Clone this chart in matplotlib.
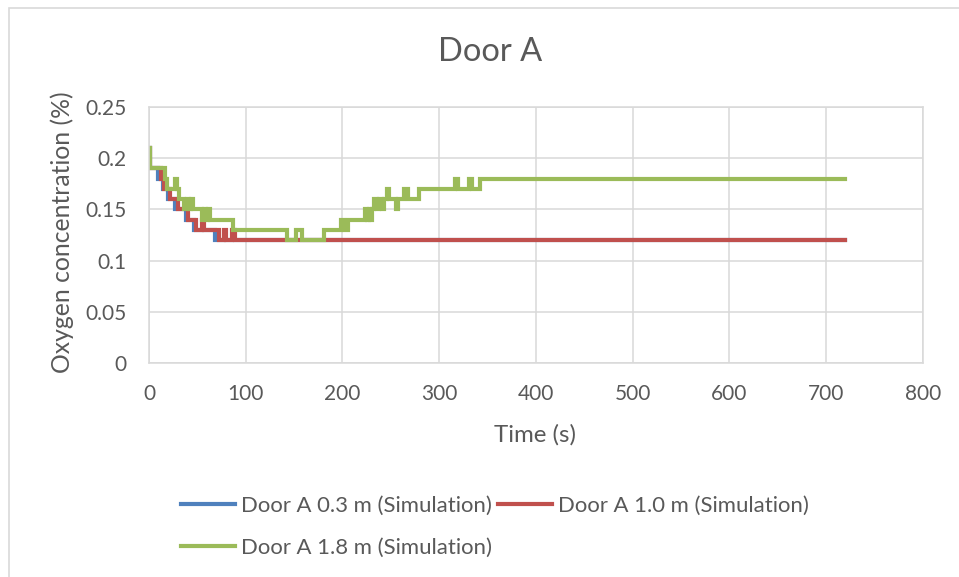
import matplotlib
matplotlib.use("Agg")
import matplotlib.pyplot as plt
from matplotlib.patches import Rectangle

plt.rcParams['font.family'] = ['Lato', 'DejaVu Sans']

# ---- data ----
title = "Door A"
x_label = "Time (s)"
y_label = "Oxygen concentration (%)"
series_names = ["Door A 0.3 m (Simulation)", "Door A 1.0 m (Simulation)", "Door A 1.8 m (Simulation)"]

t_03 = [0, 1, 9, 14, 20, 27, 38, 47, 68, 720]
v_03 = [0.21, 0.19, 0.18, 0.17, 0.16, 0.15, 0.14, 0.13, 0.12, 0.12]

t_10 = [0, 1, 12, 15, 22, 30, 40, 49, 55, 57, 72, 78, 80, 86, 89, 720]
v_10 = [0.21, 0.19, 0.18, 0.17, 0.16, 0.15, 0.14, 0.13, 0.14, 0.13, 0.12, 0.13, 0.12, 0.13, 0.12, 0.12]

t_18 = [0, 1, 17, 19, 27, 29, 31, 36, 39, 41, 43, 45, 55, 57, 59, 61, 63, 87,
        143, 152, 158, 181, 199, 202, 206, 223, 225, 227, 229, 231, 233, 236, 238,
        241, 243, 246, 248, 255, 257, 264, 268, 279, 316, 320, 331, 334, 342, 720]
v_18 = [0.21, 0.19, 0.18, 0.17, 0.18, 0.17, 0.16, 0.15, 0.16, 0.15, 0.16, 0.15, 0.14, 0.15, 0.14, 0.15, 0.14, 0.13,
        0.12, 0.13, 0.12, 0.13, 0.14, 0.13, 0.14, 0.15, 0.14, 0.15, 0.14, 0.15, 0.16, 0.15, 0.16,
        0.15, 0.16, 0.17, 0.16, 0.15, 0.16, 0.17, 0.16, 0.17, 0.18, 0.17, 0.18, 0.17, 0.18, 0.18]

x_ticks = [0, 100, 200, 300, 400, 500, 600, 700, 800]
y_ticks = [0, 0.05, 0.1, 0.15, 0.2, 0.25]
y_tick_labels = ["0", "0.05", "0.1", "0.15", "0.2", "0.25"]

colors = ["#4F81BD", "#C0504D", "#9BBB59"]

# ---- figure ----
W, H = 959, 577
fig = plt.figure(figsize=(W / 100, H / 100), dpi=100)
ax = fig.add_axes([149 / W, 1 - 363.3 / H, (922.7 - 149) / W, (363.3 - 106.7) / H])

lines = []
for t, v, c, name in zip([t_03, t_10, t_18], [v_03, v_10, v_18], colors, series_names):
    ln, = ax.step(t, v, where='post', color=c, lw=3.0, label=name, solid_joinstyle='miter')
    lines.append(ln)

ax.set_xlim(0, 800)
ax.set_ylim(0, 0.25)
ax.set_xticks(x_ticks)
ax.set_yticks(y_ticks)
ax.set_yticklabels(y_tick_labels)
ax.grid(True, color="#D9D9D9", lw=1.1)
ax.set_axisbelow(True)
for s in ax.spines.values():
    s.set_color("#D9D9D9")
    s.set_linewidth(1.1)
ax.tick_params(length=0, labelsize=15, colors="#595959")
ax.tick_params(axis='x', pad=15)
ax.tick_params(axis='y', pad=16)

fig.text(490 / W, 1 - 52 / H, title, ha='center', va='center', fontsize=23.5, color="#595959")
fig.text(535 / W, 1 - 435 / H, x_label, ha='center', va='center', fontsize=17.3, color="#595959")
fig.text(62 / W, 1 - 232 / H, y_label, ha='center', va='center', rotation=90, fontsize=17.8, color="#595959")

handles = [lines[0], lines[2], lines[1]]
labels = [series_names[0], series_names[2], series_names[1]]
leg = fig.legend(handles, labels, loc='upper left', bbox_to_anchor=(181 / W, 1 - 496 / H),
                 ncol=2, frameon=False, fontsize=15.9, handlelength=2.45, handletextpad=0.25,
                 columnspacing=0.3, labelspacing=0.97, borderpad=0, borderaxespad=0)
for txt in leg.get_texts():
    txt.set_color("#595959")

fig.patches.append(Rectangle((9 / W, -0.1), 1.2, 1.1 - 8 / H + 0.0, transform=fig.transFigure,
                             fill=False, edgecolor="#D9D9D9", lw=1.2))

fig.savefig("out.png", dpi=100)
